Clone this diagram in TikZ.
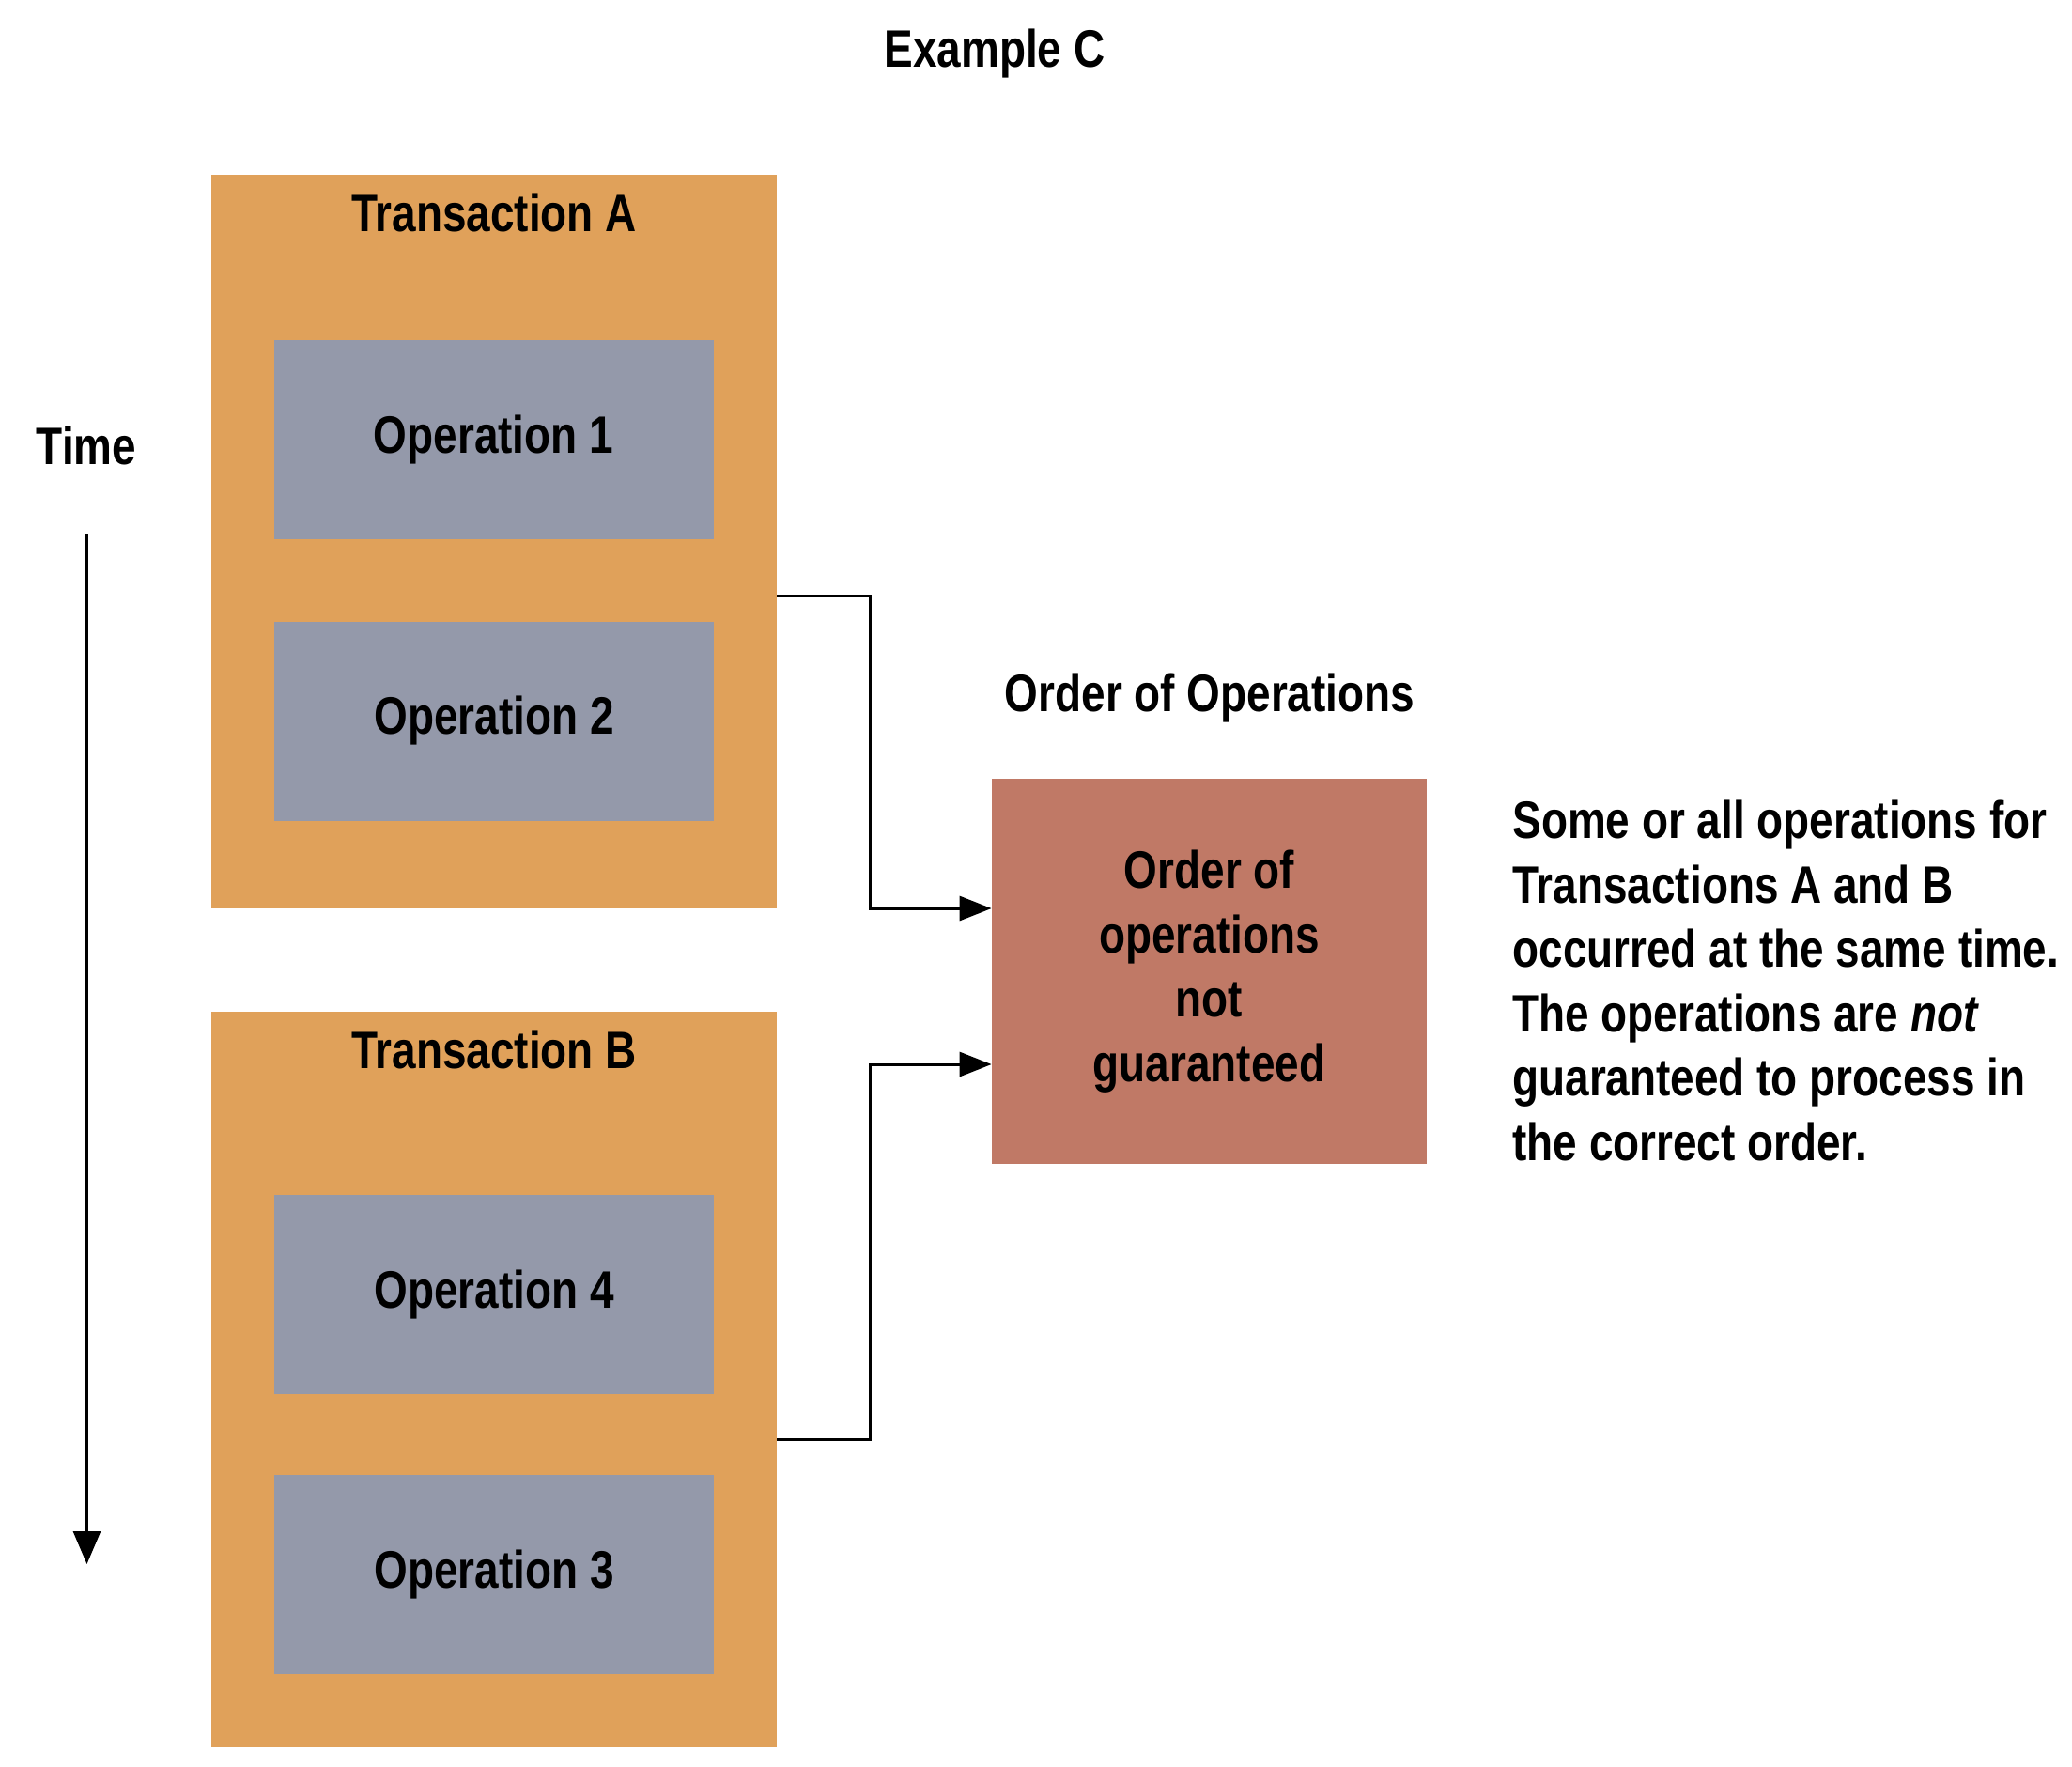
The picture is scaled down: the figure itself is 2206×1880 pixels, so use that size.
\documentclass[tikz,border=0pt]{standalone}
\usepackage{fontspec}
\setmainfont{Liberation Sans}[FakeStretch=0.82]
\usetikzlibrary{arrows.meta}
\definecolor{txorange}{RGB}{224,161,90}
\definecolor{opgray}{RGB}{148,153,170}
\definecolor{ordred}{RGB}{192,121,102}
\tikzset{
  every node/.style={font=\fontsize{28pt}{34.25pt}\selectfont\bfseries, inner sep=0pt},
  txbox/.style={fill=txorange, draw=none, minimum width=301pt, minimum height=#1},
  opbox/.style={fill=opgray, draw=none, minimum width=234pt, minimum height=106pt},
  ordbox/.style={fill=ordred, draw=none, minimum width=231.5pt, minimum height=205pt, align=center},
  conn/.style={line width=1.5pt, -{Triangle[length=17pt, width=13pt]}},
}
\begin{document}
\begin{tikzpicture}[x=0.5pt, y=-0.5pt]
\useasboundingbox (0,0) rectangle (2206,1880);
\node (title) at (1059,57) {Example C};
% Transaction A
\node[txbox=390.5pt] (ta) at (526,576.5) {};
\node (talabel) at (526,226) {Transaction A};
\node[opbox] (op1) at (525.5,468) {Operation 1};
\node[opbox] (op2) at (526,767.5) {Operation 2};
% Transaction B
\node[txbox=391.5pt] (tb) at (526,1468.5) {};
\node (tblabel) at (526,1117) {Transaction B};
\node[opbox] (op4) at (526,1378) {Operation 4};
\node[opbox] (op3) at (526,1676) {Operation 3};
% Time
\node (time) at (92,474) {Time};
\coordinate (tstart) at (92.5,568);
\coordinate (tend) at (92.5,1665);
\draw[line width=1.5pt, -{Triangle[length=17.5pt, width=14.5pt]}] (tstart) -- (tend);
% Order
\node (ordtitle) at (1288,743) {Order of Operations};
\node[ordbox] (ob) at (1287.5,1034) {Order of\\operations\\not\\guaranteed};
\node[anchor=west, align=left] (note) at (1610,1044) {Some or all operations for\\Transactions A and B\\occurred at the same time.\\The operations are \textit{not}\\guaranteed to process in\\the correct order.};
% connectors
\draw[conn] ([yshift=-28.75pt]ta.east) -- ++(99,0) |- ([yshift=33.5pt]ob.west);
\draw[conn] ([yshift=-31.75pt]tb.east) -- ++(99,0) |- ([yshift=-49.5pt]ob.west);
\end{tikzpicture}
\end{document}
